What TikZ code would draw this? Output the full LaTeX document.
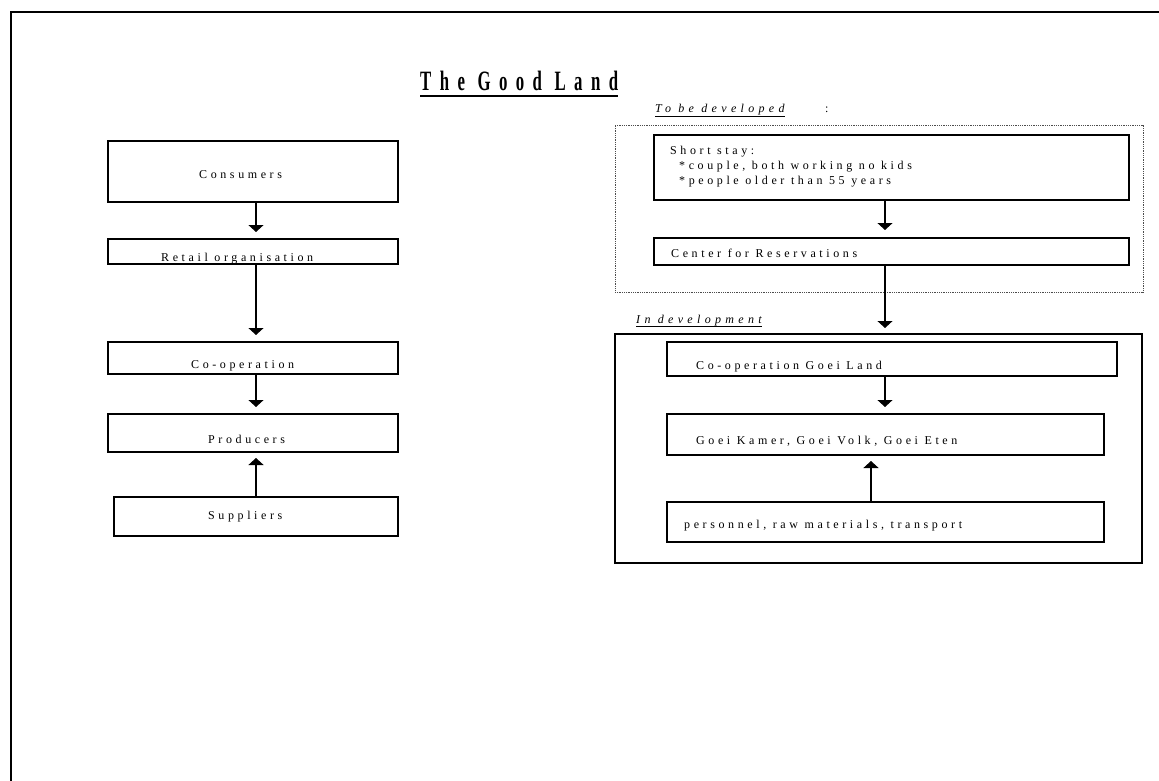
\documentclass[tikz,border=0pt]{standalone}
\usepackage{fontspec}
\setmainfont{Liberation Serif}
\newfontfamily\spaced[LetterSpace=30]{Liberation Serif}
\newfontfamily\spacedit[LetterSpace=36]{Liberation Serif}
\newfontfamily\headfont[LetterSpace=30,FakeStretch=0.6]{Liberation Serif}
\usetikzlibrary{arrows.meta}
\begin{document}
\begin{tikzpicture}[x=1pt,y=-1pt,
  box/.style={draw, line width=1.3pt, inner sep=0pt, outer sep=0pt, anchor=north west},
  group/.style={draw, line width=1.1pt, inner sep=0pt, outer sep=0pt, anchor=north west},
  plan/.style={draw=black!70, densely dotted, line width=0.8pt, inner sep=0pt, outer sep=0pt, anchor=north west},
  lbl/.style={inner sep=0pt, anchor=base west, font=\spaced\fontsize{12}{14}\selectfont},
  sub/.style={inner sep=0pt, anchor=base west, font=\spacedit\itshape\fontsize{12}{14}\selectfont},
  head/.style={inner sep=0pt, anchor=base west, font=\headfont\bfseries\fontsize{28}{30}\selectfont},
  arr/.style={line width=1.1pt, -{Triangle[width=15pt,length=7pt]}},
]
\useasboundingbox (0,0) rectangle (1159,781);
\fill[white] (0,0) rectangle (1159,781);

% page frame
\draw[line width=2.5pt] (11,781) -- (11,12) -- (1159,12);

% heading
\node[head] (title) at (420,91) {The Good Land};
\draw[line width=2.5pt] ([yshift=-5pt]title.base west) -- ([yshift=-5pt]title.base east);

% ---------------- left chain ----------------
\node[box, minimum width=290pt, minimum height=61pt] (cons) at (108,141) {};
\node[lbl] (consT) at (199,178) {Consumers};

\node[box, minimum width=290pt, minimum height=25pt] (ret) at (108,239) {};
\node[lbl] (retT) at (161,261) {Retail organisation};

\node[box, minimum width=290pt, minimum height=32pt] (coop) at (108,342) {};
\node[lbl] (coopT) at (191,368) {Co-operation};

\node[box, minimum width=290pt, minimum height=38pt] (prod) at (108,414) {};
\node[lbl] (prodT) at (208,443) {Producers};

\node[box, minimum width=284pt, minimum height=39pt] (supp) at (114,497) {};
\node[lbl] (suppT) at (208,519) {Suppliers};

\coordinate (lx) at (256,0);
\draw[arr, shorten >=7pt] (cons.south -| lx) -- (ret.north -| lx);
\draw[arr, shorten >=7pt] (ret.south -| lx) -- (coop.north -| lx);
\draw[arr, shorten >=7pt] (coop.south -| lx) -- (prod.north -| lx);
\draw[arr, shorten >=6pt] (supp.north -| lx) -- (prod.south -| lx);

% ---------------- right: to be developed ----------------
\node[sub] (tbd) at (655,113) {To be developed};
\draw[line width=0.8pt] ([yshift=-3pt]tbd.base west) -- ([yshift=-3pt]tbd.base east);
\node[lbl] (colon) at (825,113) {:};

\node[plan, minimum width=528pt, minimum height=167pt] (plan) at (615,125) {};

\node[box, minimum width=475pt, minimum height=65pt] (stay) at (654,135) {};
\node[lbl] (stayA) at (670,154) {Short stay:};
\node[lbl] (stayB) at (679,169) {*couple, both working no kids};
\node[lbl] (stayC) at (679,184) {*people older than 55 years};

\node[box, minimum width=475pt, minimum height=27pt] (resv) at (654,238) {};
\node[lbl] (resvT) at (671,257) {Center for Reservations};

% ---------------- right: in development ----------------
\node[sub] (ind) at (636,323) {In development};
\draw[line width=0.8pt] ([yshift=-3pt]ind.base west) -- ([yshift=-3pt]ind.base east);

\node[group, minimum width=527pt, minimum height=229pt] (dev) at (615,334) {};

\node[box, minimum width=450pt, minimum height=34pt] (cgl) at (667,342) {};
\node[lbl] (cglT) at (696,369) {Co-operation Goei Land};

\node[box, minimum width=437pt, minimum height=41pt] (goei) at (667,414) {};
\node[lbl] (goeiT) at (696,444) {Goei Kamer, Goei Volk, Goei Eten};

\node[box, minimum width=437pt, minimum height=40pt] (pers) at (667,502) {};
\node[lbl] (persT) at (684,528) {personnel, raw materials, transport};

\coordinate (rx) at (885,0);
\coordinate (ux) at (871,0);
\draw[arr, shorten >=8pt] (stay.south -| rx) -- (resv.north -| rx);
\draw[arr, shorten >=6pt] (resv.south -| rx) -- (dev.north -| rx);
\draw[arr, shorten >=7pt] (cgl.south -| rx) -- (goei.north -| rx);
\draw[arr, shorten >=6pt] (pers.north -| ux) -- (goei.south -| ux);
\end{tikzpicture}
\end{document}
